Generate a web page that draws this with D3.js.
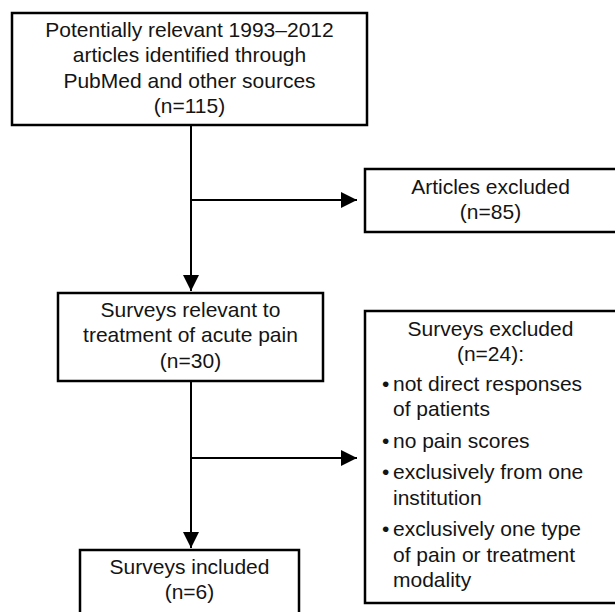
<!DOCTYPE html>
<meta charset="utf-8">
<style>
  body { margin: 0; background: #fff; }
  svg text { font-family: "Liberation Sans", Arial, sans-serif; font-size: 21px; fill: #141414; }
</style>
<body>
<div id="chart"></div>
<script src="https://d3js.org/d3.v7.min.js"></script>
<script>
  // flow data
  var stageTitles = [
    ["Potentially relevant 1993\u20132012", "articles identified through", "PubMed and other sources"],
    ["Surveys relevant to", "treatment of acute pain"],
    ["Surveys included"]
  ];
  var stageCounts = [115, 30, 6];
  var exclTitles = [["Articles excluded"], ["Surveys excluded"]];
  var exclCounts = [85, 24];
  var exclReasons = [
    [],
    [["not direct responses", "of patients"],
     ["no pain scores"],
     ["exclusively from one", "institution"],
     ["exclusively one type", "of pain or treatment", "modality"]]
  ];

  var width = 615, height = 612;
  var lineH = 25.5;

  // layout of the boxes (pixels)
  var mainBoxes = [
    { x0: 12, x1: 367, y0: 13, y1: 125 },
    { x0: 58, x1: 323, y0: 293, y1: 381 },
    { x0: 80, x1: 299, y0: 550, y1: 650 }
  ];
  var sideBoxes = [
    { x0: 365, x1: 640, y0: 169, y1: 232 },
    { x0: 365, x1: 640, y0: 311, y1: 603 }
  ];
  var trunkX = 191, branchY = [200, 458], tipX = 357;

  var svg = d3.select("#chart").append("svg")
    .attr("width", width)
    .attr("height", height);

  svg.append("defs").append("marker")
    .attr("id", "arrow")
    .attr("markerUnits", "userSpaceOnUse")
    .attr("viewBox", "0 0 16 16")
    .attr("refX", 16).attr("refY", 8)
    .attr("markerWidth", 16).attr("markerHeight", 16)
    .attr("orient", "auto")
    .append("path")
    .attr("d", "M0,0L16,8L0,16Z")
    .attr("fill", "#000");

  // connectors
  var line = d3.line();
  for (var i = 0; i < 2; i++) {
    svg.append("path")
      .attr("d", line([[trunkX, mainBoxes[i].y1], [trunkX, mainBoxes[i + 1].y0 - 2]]))
      .attr("stroke", "#000").attr("stroke-width", 2).attr("fill", "none")
      .attr("marker-end", "url(#arrow)");
    svg.append("path")
      .attr("d", line([[trunkX, branchY[i]], [tipX, branchY[i]]]))
      .attr("stroke", "#000").attr("stroke-width", 2).attr("fill", "none")
      .attr("marker-end", "url(#arrow)");
  }

  function drawBox(b) {
    svg.append("rect")
      .attr("x", b.x0).attr("y", b.y0)
      .attr("width", b.x1 - b.x0).attr("height", b.y1 - b.y0)
      .attr("fill", "#fff").attr("stroke", "#000").attr("stroke-width", 2.5);
  }

  function centredLines(lines, cx, y) {
    svg.selectAll(null)
      .data(lines)
      .enter()
      .append("text")
      .attr("x", cx)
      .attr("y", function (d, j) { return y + j * lineH; })
      .attr("text-anchor", "middle")
      .text(function (d) { return d; });
  }

  mainBoxes.forEach(function (b, i) {
    drawBox(b);
    var lines = stageTitles[i].concat(["(n=" + stageCounts[i] + ")"]);
    centredLines(lines, (b.x0 + b.x1) / 2, b.y0 + 23.5);
  });

  sideBoxes.forEach(function (b, i) {
    drawBox(b);
    var cx = (365 + 614) / 2 + 1;
    var reasons = exclReasons[i];
    var head = exclTitles[i].concat(["(n=" + exclCounts[i] + ")" + (reasons.length ? ":" : "")]);
    centredLines(head, cx, b.y0 + 24.5);
    var y = b.y0 + 24.5 + head.length * lineH + 4;
    reasons.forEach(function (r) {
      svg.append("text").attr("x", b.x0 + 17).attr("y", y).text("\u2022");
      r.forEach(function (t, j) {
        svg.append("text").attr("x", b.x0 + 28).attr("y", y + j * lineH).text(t);
      });
      y += r.length * lineH + 6;
    });
  });
</script>
</body>
